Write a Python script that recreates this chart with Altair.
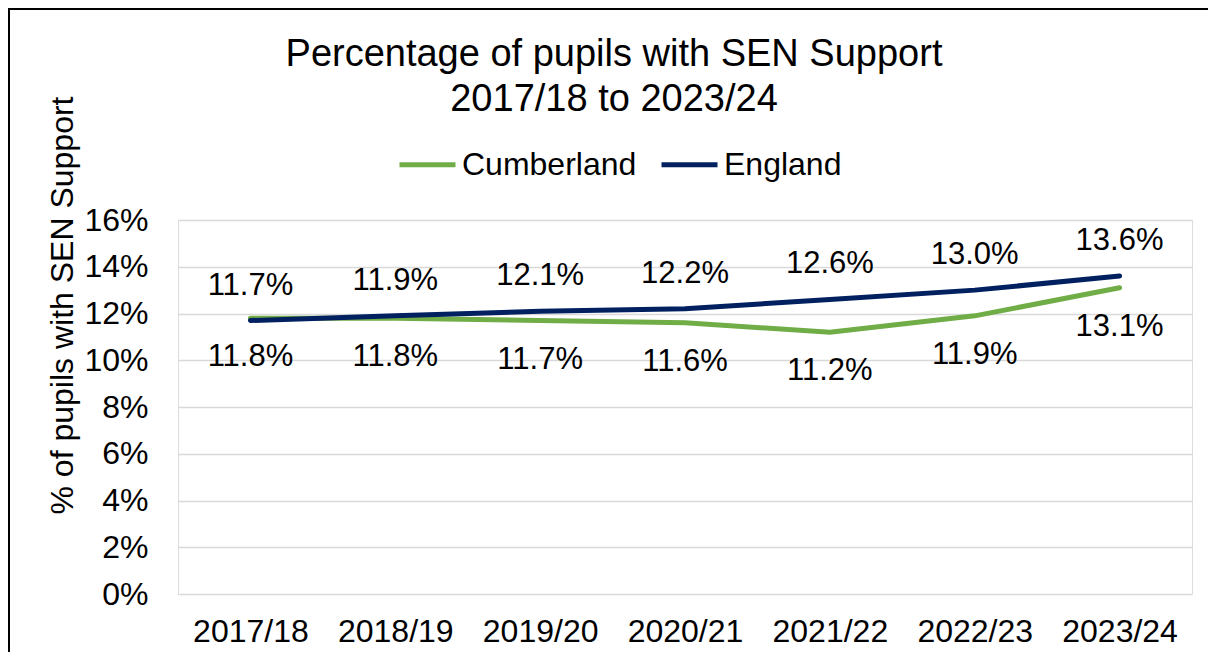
import altair as alt
import pandas as pd

years = ["2017/18", "2018/19", "2019/20", "2020/21", "2021/22", "2022/23", "2023/24"]
cumberland = [11.8, 11.8, 11.7, 11.6, 11.2, 11.9, 13.1]
england = [11.7, 11.9, 12.1, 12.2, 12.6, 13.0, 13.6]
series = ["Cumberland", "England"]
colors = ["#70AD47", "#002060"]
y_ticks = [0, 0.02, 0.04, 0.06, 0.08, 0.10, 0.12, 0.14, 0.16]
title_lines = ["Percentage of pupils with SEN Support", "2017/18 to 2023/24"]

rows = []
for yr, c, e in zip(years, cumberland, england):
    rows.append({"year": yr, "series": "Cumberland", "value": c / 100})
    rows.append({"year": yr, "series": "England", "value": e / 100})
df = pd.DataFrame(rows)

FONT = "Liberation Sans"

x_enc = alt.X(
    "year:N", sort=years,
    scale=alt.Scale(type="point", padding=0.5),
    axis=alt.Axis(title=None, labelFontSize=32, labelFont=FONT, labelColor="black",
                  labelPadding=22, ticks=False, domain=False, grid=False, labelAngle=0),
)
y_enc = alt.Y(
    "value:Q",
    scale=alt.Scale(domain=[0, 0.16], nice=False),
    axis=alt.Axis(format=".0%", values=y_ticks, title="% of pupils with SEN Support",
                  titleFontSize=32, titleFont=FONT, titleFontWeight="normal", titleColor="black",
                  titleAngle=270, titleX=-116, titleY=85, titleAlign="center", titleBaseline="middle",
                  labelFontSize=32, labelFont=FONT, labelColor="black", labelPadding=30,
                  ticks=False, domain=False, gridColor="#d9d9d9", gridWidth=1.5),
)
color_enc = alt.Color(
    "series:N",
    scale=alt.Scale(domain=series, range=colors),
    legend=alt.Legend(title=None, orient="none", legendX=219, legendY=-86, direction="horizontal",
                      symbolType="stroke", symbolSize=3136, symbolStrokeWidth=5,
                      labelFontSize=32, labelFont=FONT, labelColor="black", labelLimit=500,
                      columnPadding=14, labelOffset=4, padding=0),
)

base = alt.Chart(df)
lines = base.mark_line(strokeWidth=5, strokeCap="round").encode(x=x_enc, y=y_enc, color=color_enc)

eng_labels = base.transform_filter(alt.datum.series == "England").mark_text(
    dy=-35, fontSize=31, font=FONT, color="black"
).encode(x=alt.X("year:N", sort=years), y="value:Q", text=alt.Text("value:Q", format=".1%"))

cum_labels = base.transform_filter(alt.datum.series == "Cumberland").mark_text(
    dy=39, fontSize=31, font=FONT, color="black"
).encode(x=alt.X("year:N", sort=years), y="value:Q", text=alt.Text("value:Q", format=".1%"))

one = pd.DataFrame({"a": [0]})
title1 = alt.Chart(one).mark_text(
    fontSize=38, font=FONT, color="black", align="center", baseline="alphabetic", text=title_lines[0]
).encode(x=alt.value(436), y=alt.value(-154))
title2 = alt.Chart(one).mark_text(
    fontSize=38, font=FONT, color="black", align="center", baseline="alphabetic", text=title_lines[1]
).encode(x=alt.value(436), y=alt.value(-109))

border_top = alt.Chart(one).mark_rule(stroke="black", strokeWidth=2).encode(
    x=alt.value(-170), x2=alt.value(1100), y=alt.value(-211)
)
border_left = alt.Chart(one).mark_rule(stroke="black", strokeWidth=2).encode(
    x=alt.value(-169), y=alt.value(-212), y2=alt.value(500)
)

chart = alt.layer(lines, eng_labels, cum_labels, title1, title2, border_top, border_left).properties(
    width=1014, height=374,
    autosize=alt.AutoSizeParams(type="none"),
    padding={"left": 170, "top": 212, "right": 16, "bottom": 58},
).configure_view(stroke=None).configure(background="white")

chart.save("out.html", embed_options={"renderer": "svg", "actions": False})
